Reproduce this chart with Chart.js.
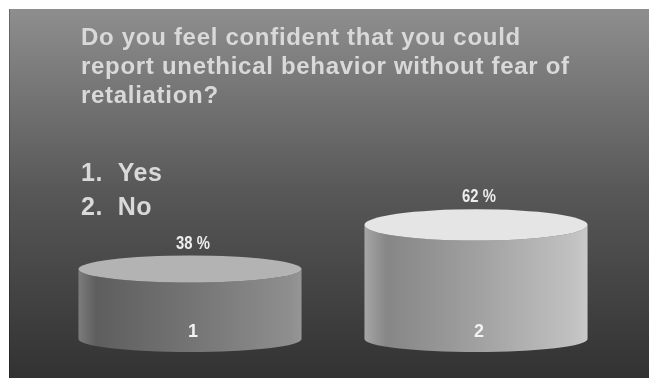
<!DOCTYPE html>
<html>
<head>
<meta charset="utf-8">
<title>Confidence in reporting</title>
<script src="https://cdn.jsdelivr.net/npm/chart.js@4"></script>
<style>
  html, body { margin: 0; padding: 0; background: #fff; overflow: hidden; }
  canvas { display: block; }
</style>
</head>
<body>
<canvas id="chart" width="649" height="378"></canvas>
<script>
const categories = ['1', '2'];
const percentValues = [38, 62];
const questionLines = [
  'Do you feel confident that you could',
  'report unethical behavior without fear of',
  'retaliation?'
];
const answerLines = ['1.  Yes', '2.  No'];

// cylinder shading, one entry per bar
const topColors = ['#b3b3b3', '#e5e5e5'];
const sideStops = [
  [[0, '#7c7c7c'], [0.08, '#5e5e5e'], [0.5, '#747474'], [0.95, '#8e8e8e'], [1, '#969696']],
  [[0, '#a6a6a6'], [0.1, '#868686'], [0.5, '#a0a0a0'], [0.95, '#c2c2c2'], [1, '#cacaca']]
];

const panel = { x: 9, y: 9 };

const backdrop = {
  id: 'backdrop',
  beforeDraw(chart) {
    const { ctx, width, height } = chart;
    ctx.save();
    ctx.fillStyle = '#ffffff';
    ctx.fillRect(0, 0, width, height);
    const g = ctx.createLinearGradient(0, panel.y, 0, height);
    g.addColorStop(0, '#8e8e8e');
    g.addColorStop(0.5, '#575757');
    g.addColorStop(1, '#323232');
    ctx.fillStyle = g;
    ctx.fillRect(panel.x, panel.y, width - panel.x, height - panel.y);
    ctx.fillStyle = 'rgba(0,0,0,0.25)';
    ctx.fillRect(panel.x, panel.y, 1, height - panel.y);

    ctx.fillStyle = '#d9d9d9';
    ctx.textAlign = 'left';
    ctx.textBaseline = 'alphabetic';
    ctx.font = 'bold 24px "Liberation Sans", Arial, sans-serif';
    ctx.letterSpacing = '0.7px';
    questionLines.forEach((line, i) => ctx.fillText(line, 81, 45 + i * 29));
    ctx.font = 'bold 25px "Liberation Sans", Arial, sans-serif';
    ctx.letterSpacing = '0.5px';
    answerLines.forEach((line, i) => ctx.fillText(line, 81, 181 + i * 34));
    ctx.restore();
  }
};

const cylinders = {
  id: 'cylinders',
  afterDatasetsDraw(chart) {
    const { ctx } = chart;
    const meta = chart.getDatasetMeta(0);
    meta.data.forEach((bar, i) => {
      const rx = bar.width / 2;
      const left = bar.x - rx;
      const right = bar.x + rx;
      const top = bar.y;
      const base = bar.base;
      const ryBase = 13;
      const ryTop = 10 + (base - top) * 0.05;

      ctx.save();
      const side = ctx.createLinearGradient(left, 0, right, 0);
      sideStops[i].forEach(([o, c]) => side.addColorStop(o, c));
      ctx.beginPath();
      ctx.moveTo(left, top);
      ctx.lineTo(left, base);
      ctx.ellipse(bar.x, base, rx, ryBase, 0, Math.PI, 0, true);
      ctx.lineTo(right, top);
      ctx.ellipse(bar.x, top, rx, ryTop, 0, 0, Math.PI, false);
      ctx.closePath();
      ctx.fillStyle = side;
      ctx.fill();

      ctx.beginPath();
      ctx.ellipse(bar.x, top, rx, ryTop, 0, 0, Math.PI * 2);
      ctx.fillStyle = topColors[i];
      ctx.fill();

      // value above (squeezed narrow), category number near the foot
      ctx.textAlign = 'center';
      ctx.textBaseline = 'alphabetic';
      ctx.fillStyle = '#ececec';
      ctx.font = 'bold 19px "Liberation Sans", Arial, sans-serif';
      ctx.save();
      ctx.translate(bar.x + 3, top - ryTop - 7);
      ctx.scale(0.78, 1);
      ctx.fillText(percentValues[i] + ' %', 0, 0);
      ctx.restore();
      ctx.fillStyle = '#f2f2f2';
      ctx.font = 'bold 18px "Liberation Sans", Arial, sans-serif';
      ctx.fillText(chart.data.labels[i], bar.x + 3, base - 2);
      ctx.restore();
    });
  }
};

new Chart(document.getElementById('chart'), {
  type: 'bar',
  data: {
    labels: categories,
    datasets: [{
      data: percentValues,
      backgroundColor: 'rgba(0,0,0,0)',
      borderWidth: 0,
      categoryPercentage: 0.78,
      barPercentage: 1
    }]
  },
  options: {
    responsive: false,
    animation: false,
    layout: { padding: { left: 47, right: 30, top: 155, bottom: 39 } },
    plugins: {
      legend: { display: false },
      tooltip: { enabled: false }
    },
    scales: {
      x: { display: false },
      y: { display: false, min: 0, max: 100 }
    }
  },
  plugins: [backdrop, cylinders]
});
</script>
</body>
</html>
